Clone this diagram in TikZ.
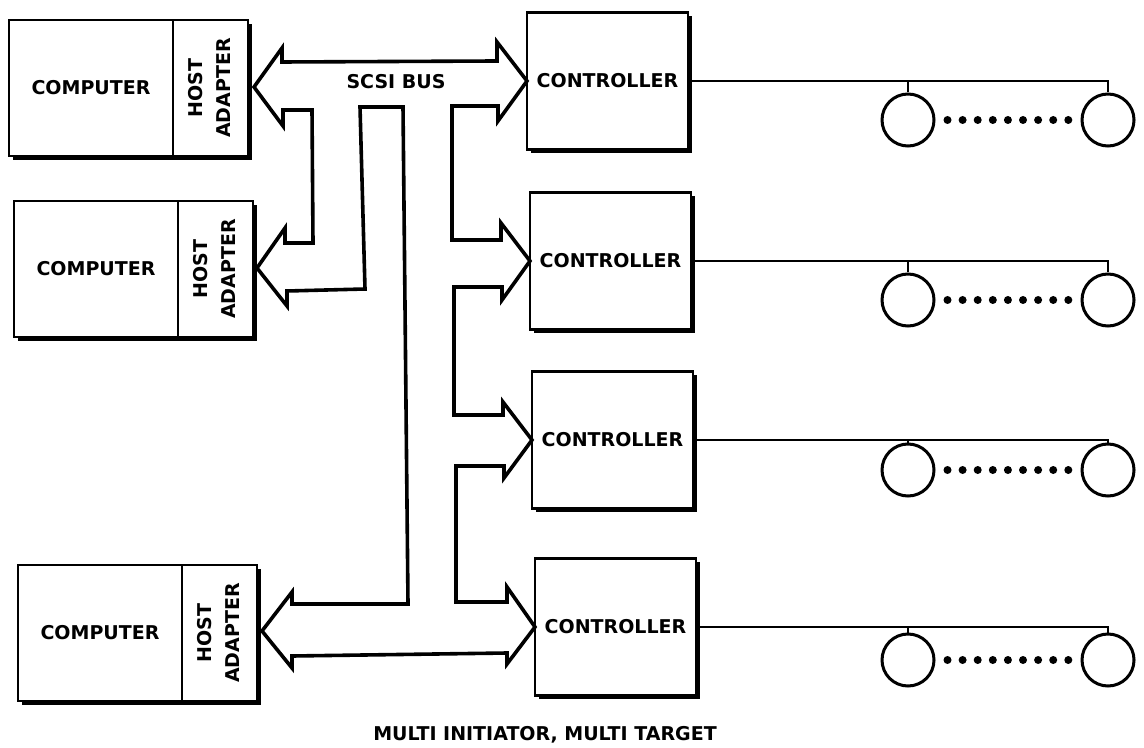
\documentclass[tikz,border=0pt]{standalone}
\usepackage{fontspec}
\setmainfont{DejaVu Sans}
\usetikzlibrary{positioning,shadows}
\begin{document}
\begin{tikzpicture}[x=0.5pt, y=-0.5pt,
    lbl/.style={font=\fontsize{9.5}{14}\selectfont\bfseries},
    box/.style={draw, line width=1.4pt, fill=white, outer sep=0pt, inner sep=0pt, lbl,
      drop shadow={shadow xshift=1.8pt, shadow yshift=-1.8pt, fill=black, opacity=1}},
    pc/.style={box, minimum width=82pt, minimum height=68pt},
    adapter/.style={box, minimum width=37.5pt, minimum height=68pt},
    ctrl/.style={box, minimum width=80.5pt, minimum height=68.5pt},
    drive/.style={draw, circle, line width=1.5pt, minimum size=26pt, inner sep=0pt},
    wire/.style={line width=1pt},
    bus/.style={line width=1.8pt, line join=miter},
    dots/.style={line width=4pt, line cap=round, dash pattern=on 0pt off 7.55pt, shorten <=6pt, shorten >=6pt}]
    \useasboundingbox (0,0) rectangle (1144,748);

    \node[pc] (pc1) at (91,88) {COMPUTER};
    \node[adapter, right=0pt of pc1] (ha1) {\rotatebox{90}{\begin{tabular}{@{}c@{}}HOST\\ADAPTER\end{tabular}}};
    \node[pc] (pc2) at (96,269) {COMPUTER};
    \node[adapter, right=0pt of pc2] (ha2) {\rotatebox{90}{\begin{tabular}{@{}c@{}}HOST\\ADAPTER\end{tabular}}};
    \node[pc] (pc3) at (100,633) {COMPUTER};
    \node[adapter, right=0pt of pc3] (ha3) {\rotatebox{90}{\begin{tabular}{@{}c@{}}HOST\\ADAPTER\end{tabular}}};

    \node[ctrl] (ctrl1) at (607.5,81) {CONTROLLER};
    \node[ctrl] (ctrl2) at (610.5,261) {CONTROLLER};
    \node[ctrl] (ctrl3) at (612.5,440) {CONTROLLER};
    \node[ctrl] (ctrl4) at (615.5,627) {CONTROLLER};

    \node[lbl] (busname) at (396,82) {SCSI BUS};

    \draw[bus] (254,87) -- (282,48) -- (282,62) -- (497,61) -- (497,42) -- (ctrl1.west)
        -- (498,121) -- (498,106) -- (452,106) -- (452,240) -- (501,240) -- (501,223) -- (ctrl2.west)
        -- (502,300) -- (502,287) -- (454,287) -- (454,415) -- (503,415) -- (503,402) -- (ctrl3.west)
        -- (504,478) -- (504,466) -- (456,466) -- (456,602) -- (507,602) -- (507,587) -- (ctrl4.west)
        -- (507,664) -- (507,653) -- (292,656) -- (292,668) -- (262,631) -- (292,592) -- (292,604)
        -- (408,604) -- (403,107) -- (360,107) -- (365,289) -- (287,291) -- (287,306) -- (257,268)
        -- (285,228) -- (285,243) -- (313,243) -- (312,110) -- (283,110) -- (283,126) -- cycle;

    \node[drive] (d11) at (908,120) {};
    \node[drive] (d12) at (1108,120) {};
    \draw[wire] (ctrl1.east) -| (d12.north);
    \draw[wire] (d11.north) -- (d11.north |- ctrl1.east);
    \draw[dots] (d11) -- (d12);

    \node[drive] (d21) at (908,300) {};
    \node[drive] (d22) at (1108,300) {};
    \draw[wire] (ctrl2.east) -| (d22.north);
    \draw[wire] (d21.north) -- (d21.north |- ctrl2.east);
    \draw[dots] (d21) -- (d22);

    \node[drive] (d31) at (908,470) {};
    \node[drive] (d32) at (1108,470) {};
    \draw[wire] (ctrl3.east) -| (d32.north);
    \draw[wire] (d31.north) -- (d31.north |- ctrl3.east);
    \draw[dots] (d31) -- (d32);

    \node[drive] (d41) at (908,660) {};
    \node[drive] (d42) at (1108,660) {};
    \draw[wire] (ctrl4.east) -| (d42.north);
    \draw[wire] (d41.north) -- (d41.north |- ctrl4.east);
    \draw[dots] (d41) -- (d42);

    \node[lbl] (caption) at (545,735) {MULTI INITIATOR, MULTI TARGET};
\end{tikzpicture}
\end{document}
